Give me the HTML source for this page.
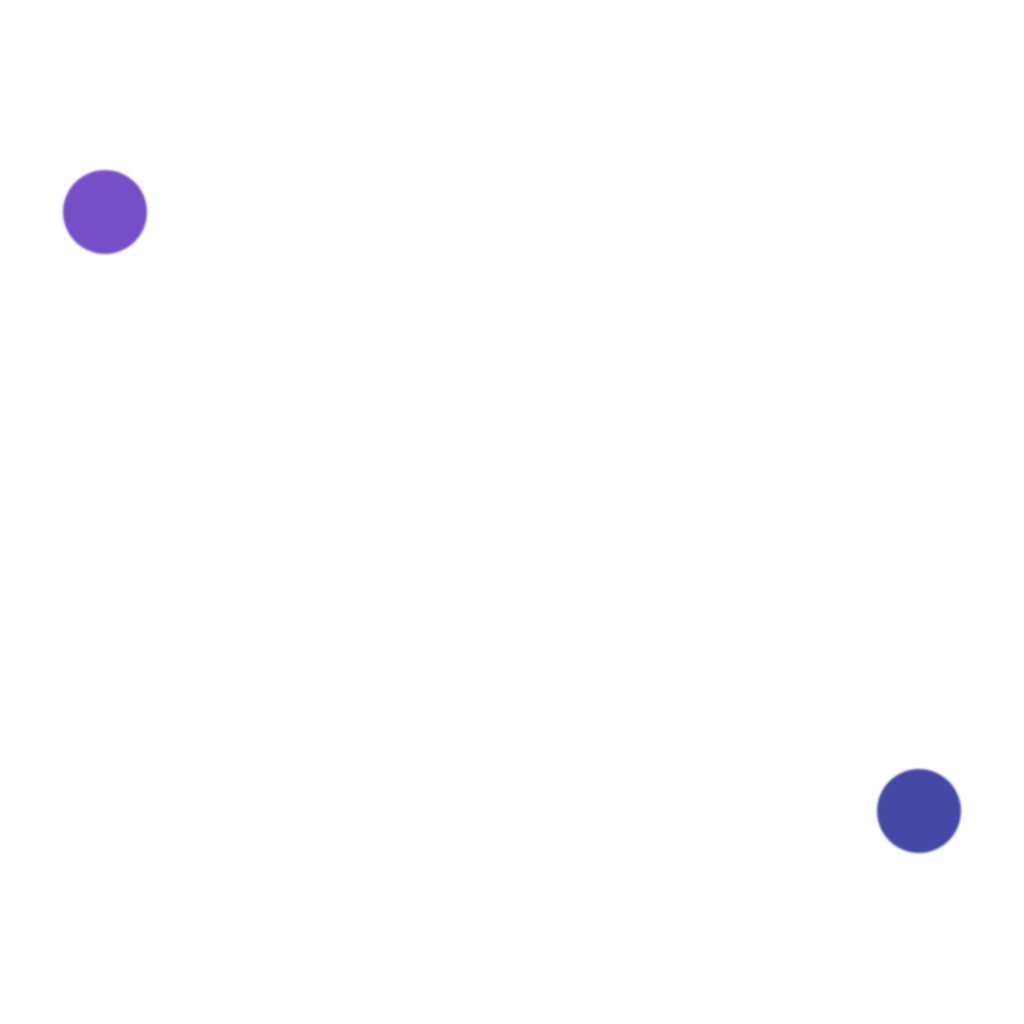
<!DOCTYPE html>
<html><head><style>
html,body{margin:0;padding:0;background:#fff;width:1024px;height:1024px;overflow:hidden}
</style></head><body>
<svg width="1024" height="1024" xmlns="http://www.w3.org/2000/svg">
<defs><filter id="b"><feGaussianBlur stdDeviation="1"/></filter></defs>
<circle cx="105" cy="212" r="42" fill="#7650c8" filter="url(#b)"/>
<circle cx="919" cy="811" r="42" fill="#4549a6" filter="url(#b)"/>
</svg>
</body></html>
